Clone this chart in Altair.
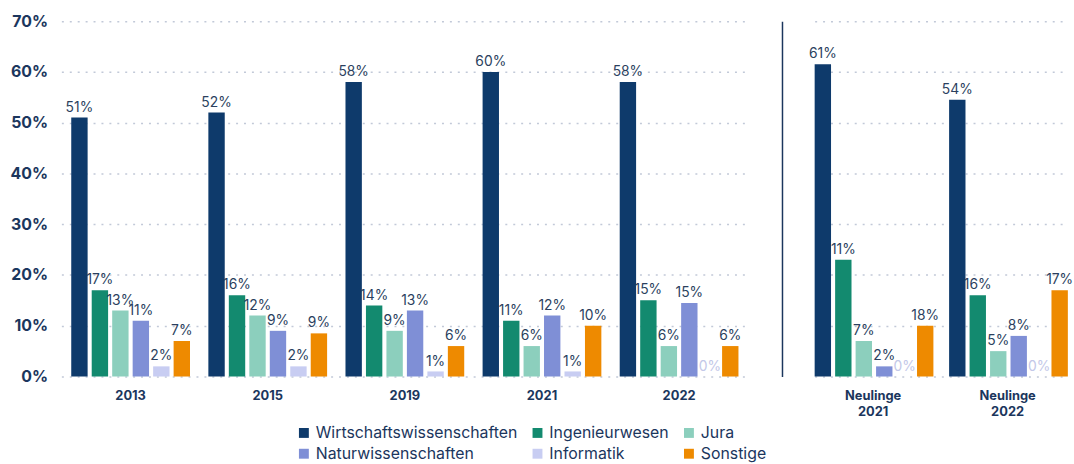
import altair as alt
import pandas as pd

groups_left = ["2013", "2015", "2019", "2021", "2022"]
groups_right = ["Neulinge 2021", "Neulinge 2022"]
groups = groups_left + groups_right

series = ["Wirtschaftswissenschaften", "Ingenieurwesen", "Jura",
          "Naturwissenschaften", "Informatik", "Sonstige"]
colors = ["#0e3a6b", "#138a6f", "#8ccfbd", "#7f8fd6", "#c8cdf2", "#ee8a00"]

# bar heights (in %) per group
wirt = [51, 52, 58, 60, 58, 61.5, 54.5]
ing = [17, 16, 14, 11, 15, 23, 16]
jura = [13, 12, 9, 6, 6, 7, 5]
natur = [11, 9, 13, 12, 14.5, 2, 8]
info = [2, 2, 1, 1, 0, 0, 0]
sonst = [7, 8.5, 6, 10, 6, 10, 17]

# printed labels (as shown in the chart)
wirt_lbl = ["51%", "52%", "58%", "60%", "58%", "61%", "54%"]
ing_lbl = ["17%", "16%", "14%", "11%", "15%", "11%", "16%"]
jura_lbl = ["13%", "12%", "9%", "6%", "6%", "7%", "5%"]
natur_lbl = ["11%", "9%", "13%", "12%", "15%", "2%", "8%"]
info_lbl = ["2%", "2%", "1%", "1%", "0%", "0%", "0%"]
sonst_lbl = ["7%", "9%", "6%", "10%", "6%", "18%", "17%"]

y_ticks = [0, 10, 20, 30, 40, 50, 60, 70]

vals = [wirt, ing, jura, natur, info, sonst]
lbls = [wirt_lbl, ing_lbl, jura_lbl, natur_lbl, info_lbl, sonst_lbl]
rows = []
for s, v, l in zip(series, vals, lbls):
    for g, vv, ll in zip(groups, v, l):
        rows.append({"group": g, "series": s, "value": vv, "label": ll,
                     "side": "L" if g in groups_left else "R"})
df = pd.DataFrame(rows)

NAVY = "#1b365d"
FONT = "Inter"

color_scale = alt.Scale(domain=series, range=colors)
yscale = alt.Scale(domain=[0, 70], nice=False)


def panel(side, dom, width, pad_inner, pad_outer, yaxis):
    base = alt.Chart(df).transform_filter(alt.datum.side == side)
    x = alt.X("group:N", sort=dom,
              scale=alt.Scale(domain=dom, paddingInner=pad_inner, paddingOuter=pad_outer),
              axis=alt.Axis(title=None, labelAngle=0, ticks=False, domain=False,
                            labelFontWeight="bold", labelFontSize=13, labelColor=NAVY,
                            labelFont=FONT, labelPadding=13, labelLineHeight=16,
                            labelExpr="split(datum.label, ' ')"))
    xoff = alt.XOffset("series:N", sort=series, scale=alt.Scale(domain=series, paddingInner=0.2))
    bars = base.mark_bar().encode(
        x=x, xOffset=xoff,
        y=alt.Y("value:Q", scale=yscale, axis=yaxis),
        color=alt.Color("series:N", scale=color_scale, sort=series,
                        legend=alt.Legend(title=None, orient="none", legendX=237, legendY=408,
                                          direction="horizontal", columns=3, gridAlign="none",
                                          symbolType="square", symbolSize=100,
                                          labelFontSize=16, labelColor=NAVY, labelFont=FONT,
                                          labelLimit=400, columnPadding=12, rowPadding=5)),
    )
    text = base.mark_text(baseline="bottom", dy=-3, fontSize=14, font=FONT).encode(
        x=x, xOffset=xoff,
        y=alt.Y("value:Q", scale=yscale),
        text="label:N",
        color=alt.condition(alt.datum.value == 0, alt.value("#c3c8e8"), alt.value("#2b3f5e")),
    )
    return alt.layer(bars, text).properties(width=width, height=359)


left_axis = alt.Axis(title=None, values=y_ticks, labelExpr="datum.value + '%'",
                     grid=True, gridDash=[2, 6], gridColor="#c2c9d8", gridWidth=1.5,
                     domain=False, ticks=False, labelFontWeight="bold", labelFontSize=16,
                     labelColor=NAVY, labelFont=FONT, labelPadding=14)
right_axis = alt.Axis(title=None, values=y_ticks, labels=False, grid=True, gridDash=[2, 6],
                      gridColor="#c2c9d8", gridWidth=1.5, domain=True, domainColor=NAVY,
                      domainWidth=1.5, ticks=False, offset=33)

left = panel("L", groups_left, 694, 0.134, 0.072, left_axis)
right = panel("R", groups_right, 254, 0.13, 0.0, right_axis)

chart = alt.hconcat(left, right, spacing=34).properties(
    padding={"left": 10, "top": 11, "right": 0, "bottom": 0}
).configure_view(stroke=None)

chart.save("out.html", embed_options={"renderer": "svg", "actions": False})
